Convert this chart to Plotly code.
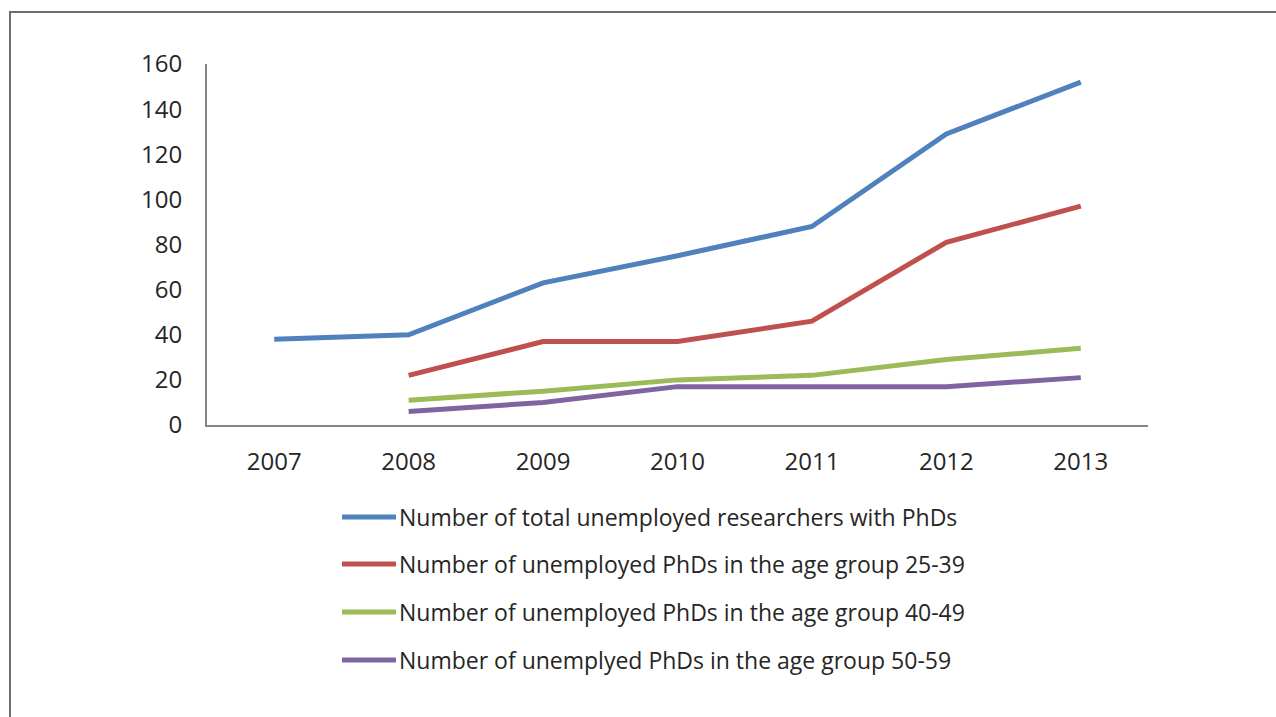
import plotly.graph_objects as go

years = ["2007", "2008", "2009", "2010", "2011", "2012", "2013"]
total = [38, 40, 63, 75, 88, 129, 152]
age_25_39 = [None, 22, 37, 37, 46, 81, 97]
age_40_49 = [None, 11, 15, 20, 22, 29, 34]
age_50_59 = [None, 6, 10, 17, 17, 17, 21]
names = [
    "Number of total unemployed researchers with PhDs",
    "Number of unemployed PhDs in the age group 25-39",
    "Number of unemployed PhDs in the age group 40-49",
    "Number of unemplyed PhDs in the age group 50-59",
]
colors = ["#4F81BD", "#C0504D", "#9BBB59", "#8064A2"]
series = [total, age_25_39, age_40_49, age_50_59]

W, H = 1276, 717
L, R, T, B = 207, 1148, 64, 425
pw, ph = R - L, B - T

def px(x):
    return (x - L) / pw

def py(y):
    return (B - y) / ph

fig = go.Figure()
for name, vals, c in zip(names, series, colors):
    fig.add_trace(go.Scatter(x=years, y=vals, name=name, mode="lines",
                             line=dict(color=c, width=5), showlegend=False))

font = "Open Sans"
shapes = [dict(type="rect", xref="paper", yref="paper",
               x0=px(10), x1=px(1300), y0=py(740), y1=py(12),
               line=dict(color="#6E6E6E", width=2), fillcolor="rgba(0,0,0,0)")]
annotations = []
rows = [517, 564, 612, 660]
for name, c, ry in zip(names, colors, rows):
    shapes.append(dict(type="line", xref="paper", yref="paper",
                       x0=px(342), x1=px(396), y0=py(ry), y1=py(ry),
                       line=dict(color=c, width=5)))
    annotations.append(dict(xref="paper", yref="paper", x=px(397), y=py(ry),
                            xanchor="left", yanchor="middle", text=name,
                            showarrow=False, font=dict(family=font, size=23, color="#262626")))

fig.update_layout(
    width=W, height=H,
    margin=dict(l=L, r=W - R, t=T, b=H - B, pad=0),
    paper_bgcolor="white", plot_bgcolor="white",
    shapes=shapes, annotations=annotations,
    font=dict(family=font, size=24, color="#262626"),
    xaxis=dict(type="category", range=[-0.5, 6.5], showgrid=False, zeroline=False,
               showline=True, linecolor="#868686", linewidth=2, ticks="",
               ticklabelstandoff=14, tickfont=dict(size=24)),
    yaxis=dict(range=[0, 160], dtick=20, showgrid=False, zeroline=False,
               showline=True, linecolor="#868686", linewidth=2, ticks="",
               ticklabelstandoff=18, tickfont=dict(size=24)),
)
fig.write_html("out.html")
